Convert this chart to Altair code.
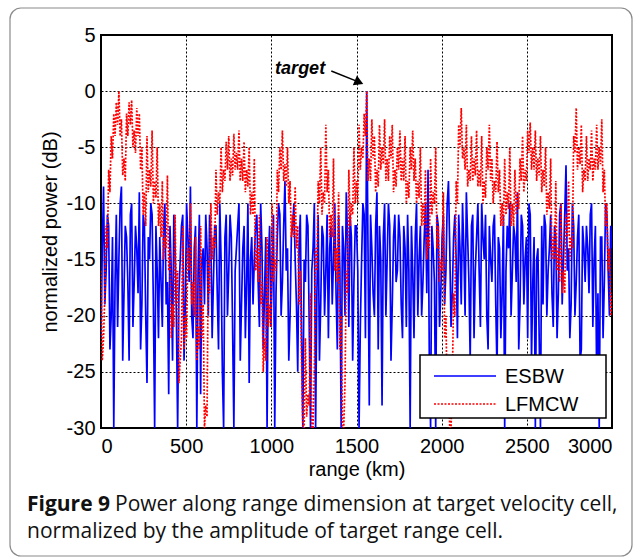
import altair as alt
import pandas as pd

# ---------------- data ----------------
# samples every 15 km, plus in-between samples (7.5 km offset)
range_km = list(range(0, 3001, 15))
range_km_mid = [7.5 + 15 * i for i in range(200)]

esbw = [
    -22, -8.5, -16, -12, -20, -30, -11, -15, -8.5, -18,
    -13, -24, -10, -17, -14, -9, -19, -12, -26, -15,
    -11, -30, -16, -13, -21, -10, -17, -12, -24, -14,
    -30, -15, -11, -19, -13, -8.5, -22, -12, -16, -27,
    -14, -11, -20, -13, -17, -12, -23, -15, -30, -11,
    -16, -13, -30, -14, -10, -19, -12, -17, -26, -13,
    -15, -11, -21, -14, -18, -30, -12, -16, -30, -13,
    -11, -17, -8, -14, -20, -12, -15, -25, -11, -30,
    -17, -12, -30, -14, -30, -11, -19, -13, -16, -22,
    -12, -15, -18, -11, -30, -14, -9, -21, -13, -17,
    -12, -30, -15, -11, 0, -28, -14, -20, -9, -12,
    -28, -10, -15, -12, -19, -11, -16, -13, -22, -14,
    -11, -30, -16, -13, -20, -12, -17, -10, -7, -30,
    -14, -30, -12, -18, -11, -16, -8, -21, -13, -15,
    -11, -19, -14, -9, -17, -12, -22, -13, -16, -10,
    -15, -20, -12, -17, -11, -25, -14, -18, -30, -12,
    -10, -16, -13, -9, -19, -12, -15, -22, -11, -17,
    -30, -14, -30, -19, -12, -16, -11, -21, -13, -18,
    -10, -15, -6.6, -14, -19, -12, -17, -11, -23, -14,
    -12, -18, -10, -15, -26, -30, -13, -17, -11, -20,
    -14,
]
esbw_mid = [
    -14, -19, -11, -23, -13, -17, -21, -10, -24, -12,
    -17, -11, -21, -12, -18, -23, -11, -20, -13, -10,
    -19, -12, -22, -17, -12, -19, -27, -16, -11, -20,
    -18, -12, -24, -10, -17, -20, -14, -30, -11, -15,
    -19, -14, -11, -22, -12, -18, -10, -25, -13, -20,
    -11, -21, -16, -12, -24, -14, -22, -10, -15, -19,
    -12, -17, -10, -23, -13, -15, -21, -11, -18, -10,
    -20, -12, -16, -24, -13, -10, -19, -14, -22, -15,
    -11, -21, -16, -10, -18, -24, -12, -20, -11, -14,
    -19, -10, -23, -16, -12, -20, -13, -11, -24, -12,
    -16, -21, -10, -22, -14, -11, -18, -12, -23, -15,
    -13, -20, -10, -24, -13, -17, -11, -19, -12, -21,
    -16, -12, -22, -10, -15, -20, -13, -18, -24, -12,
    -17, -11, -21, -13, -19, -10, -14, -18, -11, -22,
    -14, -10, -20, -13, -24, -11, -16, -10, -21, -13,
    -11, -23, -15, -12, -19, -13, -22, -11, -16, -14,
    -20, -12, -17, -23, -11, -19, -13, -10, -24, -13,
    -15, -22, -12, -11, -20, -14, -18, -12, -22, -11,
    -19, -11, -16, -22, -10, -20, -13, -24, -12, -17,
    -14, -11, -21, -12, -18, -13, -22, -10, -16, -12,
]

lfmcw = [
    -16, -22, -12, -7, -4, -2, -1, 0, -2.5, -6,
    -2, -1, -0.8, -3.5, -1.5, -2, -5, -9, -4, -7,
    -3.5, -8, -5, -10, -8, -13, -7.5, -14, -19, -11,
    -16, -24, -12, -20, -14, -10, -17, -13, -21, -12,
    -19, -28, -15, -10, -13, -7, -9, -5, -7, -4.5,
    -4, -6, -3.8, -5.5, -3.5, -6, -4.5, -7, -5, -9,
    -6, -14, -11, -17, -22, -13, -19, -10, -15, -7,
    -5, -3.5, -6.5, -5, -8, -11, -8.5, -12, -16, -30,
    -22, -27, -18, -30, -14, -8, -5, -9, -3, -7,
    -11, -6, -14, -9, -20, -30, -16, -7, -10, -5,
    -8, -3, -5, -2, 0, -6, -2.5, -4, -7, -3,
    -5, -2.5, -6, -4, -3, -7, -5, -3.5, -6, -4,
    -8, -5, -3.5, -6, -8, -5, -10, -7, -13, -6,
    -9, -5, -12, -15, -9, -20, -26, -30, -18, -8,
    -3, -1.5, -5, -3, -7, -4, -6, -3.5, -7, -4,
    -8, -5, -3, -6, -8, -4.5, -7, -10, -6, -9,
    -5, -10, -7, -9, -6, -4, -7, -3.5, -2.8, -5,
    -3.5, -6, -4, -7, -5, -9, -6, -13, -8, -14,
    -10, -16, -11, -8, -13, -4, -1.5, -5, -3, -7,
    -4, -6, -3.5, -6, -3, -5, -2.5, -7, -10, -14,
    -18,
]
lfmcw_mid = [
    -24, -18, -14, -9, -6, -4, -3, -4, -7.5, -8,
    -4, -3, -5, -5.5, -4, -7, -11, -12, -9, -8.5,
    -10, -9.5, -12, -13, -15, -14, -16, -22, -21, -19,
    -26, -22, -23, -22, -16, -19, -20, -24, -23, -22,
    -30, -29, -18, -15, -14, -11, -10, -9, -8, -7,
    -8, -7.5, -7, -7, -8, -8, -9, -8.5, -11, -11,
    -16, -17, -19, -25, -24, -21, -21, -17, -16, -9,
    -7, -8, -8.5, -10, -13, -13, -14, -19, -24, -30,
    -29, -28, -30, -25, -16, -10, -11, -10, -9, -13,
    -13, -16, -17, -23, -30, -26, -18, -12, -11, -10,
    -10, -7, -6, -4, -8, -8, -6, -9, -8.5, -7,
    -6.5, -8, -8, -6, -9, -8.5, -7, -8, -8, -10,
    -9.5, -7, -8, -10, -9.5, -12, -12, -15, -14, -11,
    -10, -14, -17, -16, -22, -28, -30, -26, -20, -10,
    -5, -6, -7, -8.5, -8, -8, -7.5, -8.5, -8.5, -10,
    -9.5, -7, -8, -10, -9, -9, -12, -12, -11, -10.5,
    -12, -12, -11, -10.5, -8, -9, -8, -5.5, -7, -7,
    -8, -7.5, -9, -8.5, -11, -10.5, -15, -15, -16, -17,
    -18, -18, -13, -15, -14, -5.5, -7, -6.5, -9, -8,
    -8, -7, -8, -7, -7, -6.5, -9, -12, -16, -20,
]

series_names = ["ESBW", "LFMCW"]
series_colors = ["#0000ff", "#ff0000"]
series_dash = [[1, 0], [2, 1.5]]
x_ticks = [0, 500, 1000, 1500, 2000, 2500, 3000]
y_ticks = [-30, -25, -20, -15, -10, -5, 0, 5]

target_label = ["target"]
target_label_pos = {"range": [1169], "power": [2.0]}
arrow_from = {"range": [1352], "power": [1.8]}
arrow_to = {"range": [1515], "power": [0.8]}

caption_bold = "Figure 9"
caption_line1 = "Power along range dimension at target velocity cell,"
caption_line2 = "normalized by the amplitude of target range cell."

all_x = range_km + range_km_mid
df = pd.DataFrame({
    "range": all_x * 2,
    "power": esbw + esbw_mid + lfmcw + lfmcw_mid,
    "series": ["ESBW"] * len(all_x) + ["LFMCW"] * len(all_x),
}).sort_values(["series", "range"])

W, H = 511, 393
FONT = "Liberation Sans"
CAP_FONT = "Open Sans"

xs = alt.Scale(domain=[0, 3000], nice=False, zero=False)
ys = alt.Scale(domain=[-30, 5], nice=False, zero=False)

one = pd.DataFrame({"k": [0]})

frame = alt.Chart(one).mark_rect(
    fillOpacity=0, stroke="#8a8a8a", strokeWidth=1.2, cornerRadius=11
).encode(
    x=alt.value(-91), x2=alt.value(531), y=alt.value(-27), y2=alt.value(521)
)

lines = alt.Chart(df).mark_line(strokeWidth=1.7, clip=True).encode(
    x=alt.X("range:Q", scale=xs,
            axis=alt.Axis(values=x_ticks, title="range (km)", labelPadding=8,
                          titlePadding=3, labelExpr="'' + datum.value")),
    y=alt.Y("power:Q", scale=ys,
            axis=alt.Axis(values=y_ticks, title="normalized power (dB)",
                          labelPadding=6, titlePadding=6, labelExpr="'' + datum.value")),
    color=alt.Color("series:N",
                    scale=alt.Scale(domain=series_names, range=series_colors),
                    legend=None),
    strokeDash=alt.StrokeDash("series:N",
                              scale=alt.Scale(domain=series_names, range=series_dash),
                              legend=None),
)

label_df = pd.DataFrame({**target_label_pos, "label": target_label})
target_text = alt.Chart(label_df).mark_text(
    font=FONT, fontSize=18, fontStyle="italic", fontWeight="bold", color="black"
).encode(x="range:Q", y="power:Q", text="label:N")

arrow_df = pd.DataFrame({
    "range": arrow_from["range"], "power": arrow_from["power"],
    "range2": arrow_to["range"], "power2": arrow_to["power"],
})
arrow_line = alt.Chart(arrow_df).mark_rule(color="black", strokeWidth=1.5).encode(
    x="range:Q", y="power:Q", x2="range2:Q", y2="power2:Q"
)
arrow_head = alt.Chart(arrow_df).mark_point(
    shape="triangle-right", filled=True, color="black", size=110, angle=23, opacity=1
).encode(x="range2:Q", y="power2:Q")

# ---- legend (box, line samples, labels) ----
leg_box = alt.Chart(one).mark_rect(
    fill="white", stroke="black", strokeWidth=1.5
).encode(x=alt.value(319), x2=alt.value(505), y=alt.value(320), y2=alt.value(383))

leg_items = []
for i, (name, col, dash) in enumerate(zip(series_names, series_colors, series_dash)):
    yy = 341 + 28 * i
    leg_items.append(
        alt.Chart(one).mark_rule(color=col, strokeWidth=1.6, strokeDash=dash).encode(
            x=alt.value(333), x2=alt.value(395), y=alt.value(yy)
        )
    )
    leg_items.append(
        alt.Chart(one).mark_text(
            text=name, font=FONT, fontSize=20, align="left", baseline="middle", color="black"
        ).encode(x=alt.value(404), y=alt.value(yy + 1))
    )

cap_bold = alt.Chart(one).mark_text(
    text=caption_bold, font=CAP_FONT, fontSize=21, fontWeight="bold",
    align="left", baseline="middle", color="#111"
).encode(x=alt.value(-74), y=alt.value(470))
cap_1 = alt.Chart(one).mark_text(
    text=caption_line1, font=CAP_FONT, fontSize=21,
    align="left", baseline="middle", color="#111"
).encode(x=alt.value(14), y=alt.value(470))
cap_2 = alt.Chart(one).mark_text(
    text=caption_line2, font=CAP_FONT, fontSize=21,
    align="left", baseline="middle", color="#111"
).encode(x=alt.value(-74), y=alt.value(497))

chart = alt.layer(
    frame, lines, target_text, arrow_line, arrow_head, leg_box, *leg_items,
    cap_bold, cap_1, cap_2
).properties(
    width=W, height=H,
    autosize=alt.AutoSizeParams(type="none"),
    padding={"left": 101, "top": 35, "right": 23, "bottom": 130},
    background="white",
).configure_view(
    stroke="black", strokeWidth=2
).configure_axis(
    grid=True, gridColor="black", gridDash=[2, 2], gridOpacity=1, gridWidth=1,
    domain=False, ticks=False, tickSize=0,
    labelFont=FONT, labelFontSize=20, labelColor="black",
    titleFont=FONT, titleFontSize=20, titleFontWeight="normal", titleColor="black",
)

chart.save("out.html", embed_options={"renderer": "svg", "actions": False})
